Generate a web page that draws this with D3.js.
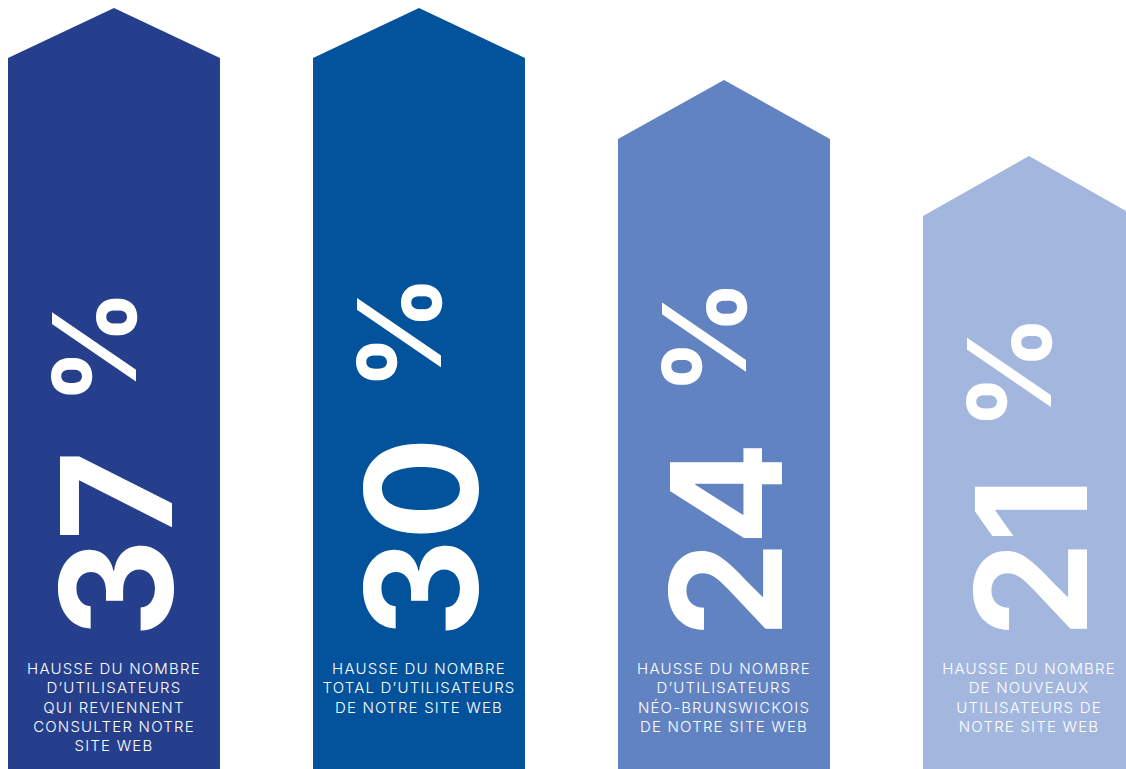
<!DOCTYPE html>
<html>
<head>
<meta charset="utf-8">
<script src="https://cdn.jsdelivr.net/npm/d3@7"></script>
<style>
  html, body { margin: 0; padding: 0; background: #ffffff; }
  svg { display: block; }
</style>
</head>
<body>
<svg id="chart" width="1126" height="769"></svg>
<script>
// ---- Data ----
const categories = ["retour", "total", "neo-brunswickois", "nouveaux"];
const values = [37, 30, 24, 21];
const valueLabels = ["37", "30", "24", "21"];
const labelLines = [
  ["HAUSSE DU NOMBRE", "D\u2019UTILISATEURS", "QUI REVIENNENT", "CONSULTER NOTRE", "SITE WEB"],
  ["HAUSSE DU NOMBRE", "TOTAL D\u2019UTILISATEURS", "DE NOTRE SITE WEB"],
  ["HAUSSE DU NOMBRE", "D\u2019UTILISATEURS", "N\u00C9O-BRUNSWICKOIS", "DE NOTRE SITE WEB"],
  ["HAUSSE DU NOMBRE", "DE NOUVEAUX", "UTILISATEURS DE", "NOTRE SITE WEB"]
];

// ---- Styles ----
const colors = ["#263f8c", "#03539c", "#6283c2", "#a3b7de"];
const headHeights = [50, 50, 59, 60];
const W = 1126, H = 769;

const svg = d3.select("#chart");

const x = d3.scaleBand().domain(categories).range([8, 1135]).paddingInner(0.305).paddingOuter(0);
const yTop = d3.scaleLinear().domain([21, 24, 30]).range([156, 80, 8]).clamp(true);

const g = svg.selectAll("g.bar")
  .data(categories.map((c, i) => ({ c, i, v: values[i] })))
  .join("g").attr("class", "bar");

g.append("path")
  .attr("fill", d => colors[d.i])
  .attr("d", d => {
    const x0 = x(d.c), x1 = x0 + x.bandwidth(), cx = (x0 + x1) / 2;
    const apex = yTop(d.v), sh = apex + headHeights[d.i];
    const p = d3.path();
    p.moveTo(x0, H + 2);
    p.lineTo(x0, sh);
    p.lineTo(cx, apex);
    p.lineTo(x1, sh);
    p.lineTo(x1, H + 2);
    p.closePath();
    return p.toString();
  });

// Big rotated numbers
const numSize = 154, pctSize = 115;
const capH = numSize * 0.727;
g.each(function (d) {
  const cx = x(d.c) + x.bandwidth() / 2;
  const grp = d3.select(this).append("g")
    .attr("transform", `translate(${cx + 2 + capH / 2},638) rotate(-90)`);
  const t = grp.append("text")
    .attr("x", 0).attr("y", 0)
    .attr("fill", "#ffffff")
    .style("font-family", "Inter, 'Open Sans', sans-serif")
    .style("font-weight", 700)
    .style("font-size", numSize + "px")
    .style("letter-spacing", "-2px")
    .text(valueLabels[d.i]);
  const len = t.node().getComputedTextLength();
  grp.append("text")
    .attr("x", len + 48).attr("y", -36)
    .attr("fill", "#ffffff")
    .style("font-family", "Inter, 'Open Sans', sans-serif")
    .style("font-weight", 700)
    .style("font-size", pctSize + "px")
    .text("%");
});

// Bottom labels
g.each(function (d) {
  const cx = x(d.c) + x.bandwidth() / 2;
  const t = d3.select(this).append("text")
    .attr("text-anchor", "middle")
    .attr("fill", "#ffffff")
    .style("font-family", "Inter, 'Open Sans', sans-serif")
    .style("font-weight", 300)
    .style("font-size", "15px")
    .style("letter-spacing", "1.2px");
  t.selectAll("tspan")
    .data(labelLines[d.i])
    .join("tspan")
    .attr("x", cx)
    .attr("y", (s, j) => 674 + j * 19.3)
    .text(s => s);
});
</script>
</body>
</html>
